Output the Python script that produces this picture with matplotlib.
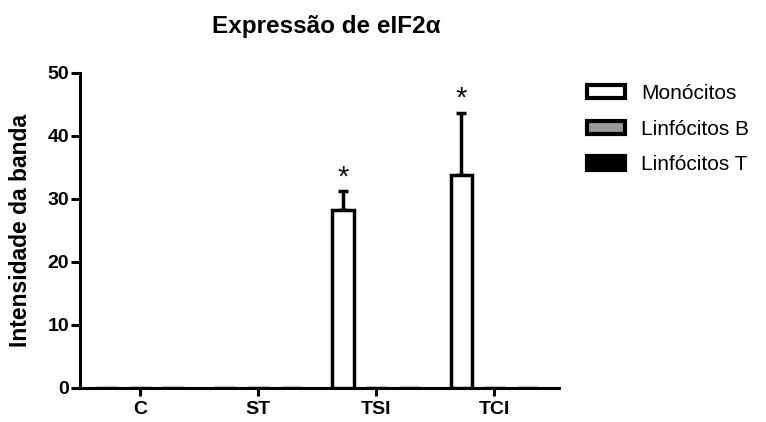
import matplotlib
matplotlib.use("Agg")
import matplotlib.pyplot as plt
from matplotlib.patches import Patch
import numpy as np

plt.rcParams['font.family'] = ['Liberation Sans', 'DejaVu Sans']

categories = ['C', 'ST', 'TSI', 'TCI']
series_names = ['Monócitos', 'Linfócitos B', 'Linfócitos T']
monocitos = [0, 0, 28.3, 33.8]
monocitos_err = [0, 0, 2.9, 9.8]
linf_b = [0, 0, 0, 0]
linf_t = [0, 0, 0, 0]
significant = [False, False, True, True]
y_ticks = [0, 10, 20, 30, 40, 50]

fig = plt.figure(figsize=(7.66, 4.22), dpi=100)
ax = fig.add_axes([80/766, 1-388/422, (559-80)/766, (388-72.7)/422])

x = np.arange(len(categories))
w = 0.18
off = 0.28
lw = 2.5
ax.bar(x - off, monocitos, w, color='white', edgecolor='black', linewidth=lw, zorder=3)
ax.bar(x, linf_b, w, color='#999999', edgecolor='black', linewidth=lw, zorder=3)
ax.bar(x + off, linf_t, w, color='black', edgecolor='black', linewidth=lw, zorder=3)

for xi, v, e, s in zip(x - off, monocitos, monocitos_err, significant):
    if v > 0:
        ax.errorbar([xi], [v], yerr=[[0], [e]], fmt='none', ecolor='black',
                    elinewidth=lw, capsize=3.8, capthick=lw, zorder=2)
    if s:
        ax.annotate('*', (xi, v + e), xytext=(0, 0), textcoords='offset points',
                    ha='center', va='bottom', fontsize=21, color='#111111')

ax.set_xlim(-0.508, 3.548)
ax.set_ylim(0, 50)
ax.set_xticks(x)
ax.set_xticklabels(categories, fontsize=14, fontweight='bold')
ax.set_yticks(y_ticks)
ax.set_yticklabels([str(t) for t in y_ticks], fontsize=14, fontweight='bold')
ax.tick_params(axis='y', direction='out', length=6.5, width=2.2, pad=1.5)
ax.tick_params(axis='x', direction='out', length=5.5, width=2.2, pad=4)
for sp in ['top', 'right']:
    ax.spines[sp].set_visible(False)
for sp in ['left', 'bottom']:
    ax.spines[sp].set_linewidth(2.2)

ax.set_ylabel('Intensidade da banda', fontsize=16.5, fontweight='bold', va='center')
ax.yaxis.set_label_coords((21 - 80) / 479, 0.5)
fig.text(326.5/766, 1-27/422, 'Expressão de eIF2α', ha='center', va='center',
         fontsize=17.5, fontweight='bold')

handles = [Patch(facecolor='white', edgecolor='black', linewidth=3),
           Patch(facecolor='#999999', edgecolor='black', linewidth=3),
           Patch(facecolor='black', edgecolor='black', linewidth=3)]
fig.legend(handles, series_names, loc='upper left', bbox_to_anchor=(587/766, 1-84/422),
           frameon=False, fontsize=15, handlelength=1.8, handleheight=0.6,
           handletextpad=0.8, labelspacing=0.8, borderaxespad=0, borderpad=0)

fig.savefig('out.png', dpi=100)
